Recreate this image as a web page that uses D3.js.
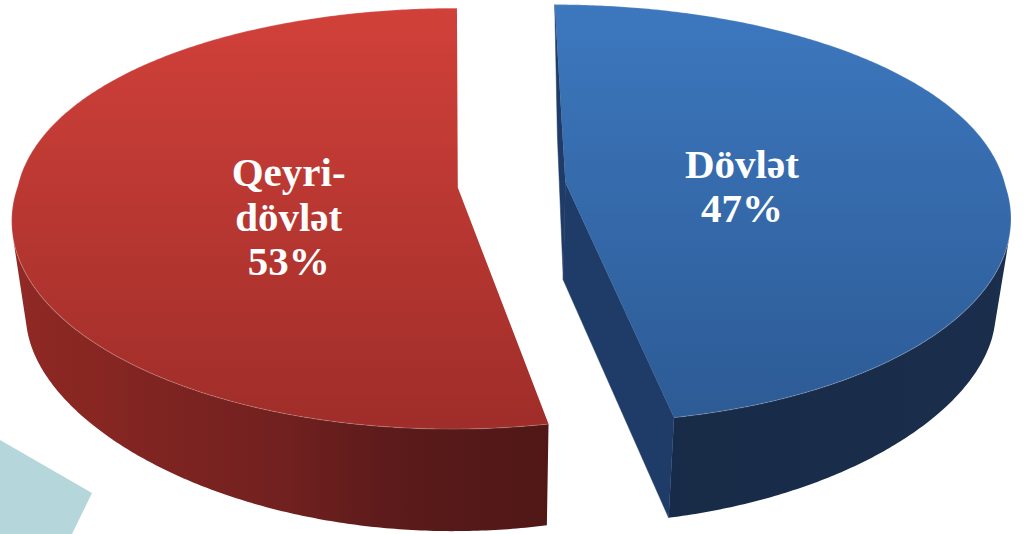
<!DOCTYPE html>
<html>
<head>
<meta charset="utf-8">
<script src="https://cdn.jsdelivr.net/npm/d3@7"></script>
<style>
  html, body { margin: 0; padding: 0; background: #ffffff; }
  svg { display: block; }
</style>
</head>
<body>
<svg id="chart" width="1027" height="534"></svg>
<script>
// ---- data ----
const categories = ["Dövlət", "Qeyri-dövlət"];
const values = [47, 53];

// ---- styling ----
const topFill = {
  "Dövlət":       ["#3d78bf", "#2c5a94"],
  "Qeyri-dövlət": ["#d2413a", "#9f2d29"]
};
const cutFaceFill = { "Dövlət": "#1f3c68", "Qeyri-dövlət": "#6e201e" };
const wallShade = {
  "Dövlət": d3.scaleLinear()
    .domain([0, 90, 130, 175])
    .range(["#1d3356", "#1b2f4f", "#1a2d4b", "#172a46"]).clamp(true),
  "Qeyri-dövlət": d3.scaleLinear()
    .domain([165, 185, 200, 225, 260, 290])
    .range(["#4e1616", "#5a1a1a", "#722120", "#862622", "#952a26", "#982b27"]).clamp(true)
};
// how far each slice is pulled out of the pie (fraction of the radius)
const explode = { "Dövlət": 0.168, "Qeyri-dövlət": 0.078 };
// label placement: radius along the slice's middle, plus a small nudge in px
const labelRadius = 0.39;
const labelNudge = { "Dövlət": [7, -6], "Qeyri-dövlət": [3, 5] };

const width = 1027, height = 534;
const svg = d3.select("#chart");

// ---- perspective view of the disc: top face and bottom face ----
// u: left/right on the disc, v: back (-1) to front (+1)
const levels = {
  top: {
    x: d3.scaleLinear().domain([-1, 1]).range([52, 932]),
    y: d3.scaleLinear().domain([-1, 1]).range([-19.4, 391.4]),
    ax: 0.1476, axBack: 0.1, ay: 0.1476
  },
  bottom: {
    x: d3.scaleLinear().domain([-1, 1]).range([65, 919]),
    y: d3.scaleLinear().domain([-1, 1]).range([100.3, 465.7]),
    ax: 0.1476, axBack: 0.028, ay: 0.2564
  }
};
const backShear = 4;
function project(u, v, level) {
  const L = levels[level];
  const k = v >= 0 ? L.ax : L.axBack;
  const sx = L.x(u / (1 - k * v)) + (v < 0 ? backShear * v : 0);
  return [sx, L.y(v / (1 - L.ay * v))];
}

// ---- background decoration ----
svg.append("polygon")
  .attr("points", [[0, 440], [92, 493], [72, height], [0, height]].map(p => p.join(",")).join(" "))
  .attr("fill", "#b5d6db");

const defs = svg.append("defs");
categories.forEach((c, i) => {
  const g = defs.append("linearGradient")
    .attr("id", "top" + i)
    .attr("gradientUnits", "userSpaceOnUse")
    .attr("x1", 0).attr("y1", 0).attr("x2", 0).attr("y2", 430);
  g.append("stop").attr("offset", 0).attr("stop-color", topFill[c][0]);
  g.append("stop").attr("offset", 1).attr("stop-color", topFill[c][1]);
});

const pie = d3.pie().sort(null).value(d => d.value);
const arcs = pie(categories.map((c, i) => ({ name: c, value: values[i] })));
const total = d3.sum(values);
const pct = d3.format(".0%");
const line = d3.line();
const step = Math.PI / 360;

arcs.forEach((a, i) => {
  const name = a.data.name;
  const mid = (a.startAngle + a.endAngle) / 2;
  const ou = explode[name] * Math.sin(mid);
  const ov = -explode[name] * Math.cos(mid);
  const rim = (ang, lvl) => project(ou + Math.sin(ang), ov - Math.cos(ang), lvl);
  const centre = lvl => project(ou, ov, lvl);

  const angles = d3.range(a.startAngle, a.endAngle, step).concat([a.endAngle]);
  const g = svg.append("g").attr("class", "slice");

  // outer wall: collect the runs of segments that face the viewer
  const runs = [];
  let cur = null;
  for (let k = 0; k < angles.length - 1; k++) {
    const a1 = angles[k], a2 = angles[k + 1];
    const quad = [rim(a2, "top"), rim(a1, "top"), rim(a1, "bottom"), rim(a2, "bottom")];
    if (d3.polygonArea(quad) < 0) {
      if (!cur) { cur = [a1]; runs.push(cur); }
      cur.push(a2);
    } else {
      cur = null;
    }
  }
  runs.forEach((run, r) => {
    const topPts = run.map(t => rim(t, "top"));
    const botPts = run.map(t => rim(t, "bottom")).reverse();
    const xs = topPts.map(p => p[0]);
    const x0 = d3.min(xs), x1 = d3.max(xs);
    const gid = `wall${i}_${r}`;
    const grad = defs.append("linearGradient")
      .attr("id", gid)
      .attr("gradientUnits", "userSpaceOnUse")
      .attr("x1", x0).attr("y1", 0).attr("x2", x1).attr("y2", 0);
    const stops = run.filter((t, k) => k % 6 === 0 || k === run.length - 1)
      .map(t => ({ off: (rim(t, "top")[0] - x0) / Math.max(1, x1 - x0), col: wallShade[name](t * 180 / Math.PI) }))
      .sort((p, q) => p.off - q.off);
    grad.selectAll("stop").data(stops).join("stop")
      .attr("offset", d => d.off)
      .attr("stop-color", d => d.col);
    g.append("path")
      .attr("d", line(topPts.concat(botPts)) + "Z")
      .attr("fill", `url(#${gid})`);
  });

  // radial cut faces
  const faces = [
    [rim(a.startAngle, "top"), centre("top"), centre("bottom"), rim(a.startAngle, "bottom")],
    [centre("top"), rim(a.endAngle, "top"), rim(a.endAngle, "bottom"), centre("bottom")]
  ].filter(p => d3.polygonArea(p) < 0);
  g.selectAll("path.cut").data(faces).join("path")
    .attr("class", "cut")
    .attr("d", d => line(d) + "Z")
    .attr("fill", cutFaceFill[name])
    .attr("stroke", cutFaceFill[name])
    .attr("stroke-width", 0.5);

  // top face
  const topPoly = [centre("top")].concat(angles.map(t => rim(t, "top")));
  g.append("path")
    .attr("d", line(topPoly) + "Z")
    .attr("fill", `url(#top${i})`);

  // soft highlight along the rim
  g.append("path")
    .attr("d", line(angles.map(t => rim(t, "top"))))
    .attr("fill", "none")
    .attr("stroke", "rgba(255,255,255,0.16)")
    .attr("stroke-width", 1.2);

  // label
  const anchor = project(ou + labelRadius * Math.sin(mid), ov - labelRadius * Math.cos(mid), "top");
  const nudge = labelNudge[name];
  const cut = name.indexOf("-");
  const lines = (cut >= 0 ? [name.slice(0, cut + 1), name.slice(cut + 1)] : [name])
    .concat([pct(a.data.value / total)]);
  const lh = 44.5, fs = 41;
  const firstBaseline = anchor[1] + 17 + nudge[1] - (lines.length - 1) * lh / 2 + fs * 0.33;
  const txt = svg.append("text")
    .attr("text-anchor", "middle")
    .attr("font-family", "'Liberation Serif', 'Times New Roman', serif")
    .attr("font-weight", "bold")
    .attr("font-size", fs)
    .attr("fill", "#ffffff");
  lines.forEach((s, k) => {
    txt.append("tspan")
      .attr("x", anchor[0] + nudge[0])
      .attr("y", firstBaseline + k * lh)
      .text(s);
  });
});
</script>
</body>
</html>
